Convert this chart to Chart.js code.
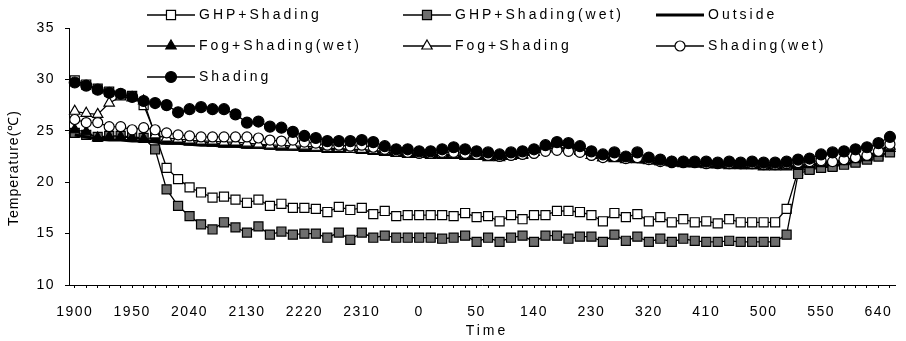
<!DOCTYPE html>
<html>
<head>
<meta charset="utf-8">
<title>Temperature</title>
<script src="https://cdn.jsdelivr.net/npm/chart.js@4.4.1/dist/chart.umd.min.js"></script>
<style>
    body { margin: 0; background: #fff; }
    #wrap { width: 906px; height: 341px; }
</style>
</head>
<body>
<div id="wrap"><canvas id="tempChart" width="906" height="341"></canvas></div>
<script>
// time of day, every 10 min (HMM without colon, as on the axis)
const timeLabels = [
    '1900', '1910', '1920', '1930', '1940', '1950', '2000', '2010', '2020', '2030',
    '2040', '2050', '2100', '2110', '2120', '2130', '2140', '2150', '2200', '2210',
    '2220', '2230', '2240', '2250', '2300', '2310', '2320', '2330', '2340', '2350',
    '0', '10', '20', '30', '40', '50', '100', '110', '120', '130',
    '140', '150', '200', '210', '220', '230', '240', '250', '300', '310',
    '320', '330', '340', '350', '400', '410', '420', '430', '440', '450',
    '500', '510', '520', '530', '540', '550', '600', '610', '620', '630',
    '640', '650'
];

const ghpShading = [
    29.9, 29.5, 29.1, 28.8, 28.5, 28.4, 27.5, 24.7, 21.4, 20.3,
    19.5, 19.0, 18.5, 18.6, 18.3, 18.0, 18.3, 17.7, 17.9, 17.5,
    17.5, 17.4, 17.1, 17.6, 17.3, 17.5, 16.9, 17.2, 16.7, 16.8,
    16.8, 16.8, 16.8, 16.7, 17.0, 16.6, 16.7, 16.2, 16.8, 16.4,
    16.8, 16.8, 17.2, 17.2, 17.1, 16.8, 16.2, 17.0, 16.6, 16.9,
    16.2, 16.6, 16.1, 16.4, 16.1, 16.2, 16.0, 16.4, 16.1, 16.1,
    16.1, 16.1, 17.4, 21.1, 21.3, 21.5, 21.6, 21.8, 22.0, 22.3,
    22.6, 23.0
];
const ghpShadingWet = [
    24.8, 24.6, 24.4, 24.5, 24.5, 24.4, 24.3, 23.2, 19.3, 17.7,
    16.7, 15.9, 15.4, 16.1, 15.6, 15.1, 15.7, 14.9, 15.2, 14.9,
    15.0, 15.0, 14.6, 15.1, 14.4, 15.1, 14.6, 14.8, 14.6, 14.6,
    14.6, 14.6, 14.5, 14.6, 14.8, 14.2, 14.6, 14.2, 14.6, 14.8,
    14.2, 14.8, 14.8, 14.5, 14.7, 14.7, 14.2, 14.9, 14.3, 14.7,
    14.2, 14.5, 14.2, 14.5, 14.3, 14.2, 14.2, 14.3, 14.2, 14.2,
    14.2, 14.2, 14.9, 20.8, 21.2, 21.4, 21.5, 21.7, 21.9, 22.2,
    22.5, 22.9
];
const outside = [
    24.6, 24.4, 24.2, 24.1, 24.1, 24.0, 24.0, 23.9, 23.8, 23.8,
    23.7, 23.6, 23.6, 23.5, 23.5, 23.4, 23.4, 23.3, 23.3, 23.2,
    23.2, 23.1, 23.1, 23.0, 23.0, 22.9, 22.9, 22.8, 22.7, 22.6,
    22.6, 22.5, 22.5, 22.5, 22.4, 22.4, 22.3, 22.3, 22.4, 22.6,
    23.0, 23.5, 23.8, 23.6, 23.2, 22.6, 22.3, 22.2, 22.1, 22.0,
    21.9, 21.8, 21.7, 21.6, 21.6, 21.5, 21.5, 21.5, 21.4, 21.4,
    21.4, 21.4, 21.4, 21.5, 21.6, 21.8, 21.9, 22.1, 22.3, 22.5,
    22.9, 23.5
];
const fogShadingWet = [
    25.1, 24.9, 24.3, 24.4, 24.4, 24.3, 24.2, 24.2, 24.0, 24.0,
    23.9, 23.9, 23.8, 23.7, 23.7, 23.6, 23.6, 23.5, 23.4, 23.4,
    23.3, 23.3, 23.2, 23.2, 23.2, 23.1, 23.0, 22.9, 22.8, 22.7,
    22.7, 22.6, 22.6, 22.6, 22.5, 22.5, 22.4, 22.4, 22.5, 22.6,
    22.9, 23.3, 23.6, 23.5, 23.1, 22.6, 22.4, 22.3, 22.2, 22.2,
    22.1, 22.0, 21.9, 21.8, 21.8, 21.7, 21.7, 21.6, 21.6, 21.6,
    21.5, 21.5, 21.5, 21.6, 21.7, 21.8, 21.9, 22.0, 22.2, 22.4,
    22.8, 23.3
];
const fogShading = [
    26.9, 26.7, 26.6, 27.7, 28.3, 28.2, 27.9, 24.6, 24.3, 24.2,
    24.1, 24.0, 24.0, 23.9, 23.9, 23.8, 23.7, 23.6, 23.6, 23.5,
    23.5, 23.4, 23.3, 23.3, 23.2, 23.2, 23.1, 23.0, 22.9, 22.8,
    22.7, 22.7, 22.7, 22.7, 22.6, 22.6, 22.5, 22.5, 22.6, 22.7,
    22.9, 23.2, 23.4, 23.3, 23.0, 22.6, 22.4, 22.4, 22.3, 22.3,
    22.2, 22.0, 21.9, 21.9, 21.8, 21.8, 21.7, 21.7, 21.7, 21.7,
    21.6, 21.6, 21.6, 21.7, 21.8, 21.9, 22.0, 22.1, 22.3, 22.5,
    22.9, 23.5
];
const shadingWet = [
    26.1, 25.8, 25.8, 25.4, 25.4, 25.1, 25.3, 25.1, 24.8, 24.6,
    24.5, 24.4, 24.4, 24.4, 24.4, 24.4, 24.3, 24.1, 24.0, 24.1,
    23.9, 23.8, 23.6, 23.6, 23.5, 23.6, 23.4, 23.2, 23.0, 22.9,
    22.8, 22.8, 22.9, 22.9, 22.8, 22.7, 22.6, 22.5, 22.6, 22.7,
    22.8, 23.0, 23.1, 23.0, 22.9, 22.6, 22.4, 22.5, 22.3, 22.4,
    22.2, 22.0, 21.9, 21.9, 21.9, 21.8, 21.8, 21.8, 21.8, 21.8,
    21.7, 21.7, 21.8, 21.9, 22.0, 22.1, 22.0, 22.2, 22.4, 22.6,
    23.0, 23.7
];
const shading = [
    29.7, 29.4, 29.0, 28.7, 28.6, 28.3, 27.9, 27.7, 27.5, 26.8,
    27.1, 27.3, 27.1, 27.1, 26.6, 25.8, 25.9, 25.4, 25.3, 24.9,
    24.5, 24.3, 24.0, 24.0, 24.0, 24.1, 23.9, 23.5, 23.2, 23.2,
    23.0, 23.0, 23.2, 23.4, 23.2, 23.0, 22.9, 22.7, 22.9, 23.0,
    23.2, 23.6, 23.9, 23.8, 23.5, 23.0, 22.7, 22.9, 22.5, 22.9,
    22.4, 22.2, 22.0, 22.0, 22.0, 22.0, 21.9, 22.0, 21.9, 22.0,
    21.9, 21.9, 22.0, 22.2, 22.3, 22.7, 22.9, 23.0, 23.2, 23.4,
    23.8, 24.4
];

const yMin = 10;
const yMax = 35;
const yStep = 5;

const FONT = '"Liberation Sans", Arial, sans-serif';

function series(label, data, style, fill, radius, width) {
    return {
        label: label,
        data: data,
        borderColor: '#000',
        borderWidth: width || 1.3,
        pointStyle: style,
        pointRadius: radius,
        pointBackgroundColor: fill,
        pointBorderColor: '#000',
        pointBorderWidth: 1.2,
        tension: 0,
        fill: false
    };
}

const datasets = [
    series('GHP+Shading', ghpShading, 'rect', '#fff', 6.4),
    series('GHP+Shading(wet)', ghpShadingWet, 'rect', '#6e6e6e', 6.4),
    series('Outside', outside, 'circle', '#000', 0, 3),
    series('Fog+Shading(wet)', fogShadingWet, 'triangle', '#000', 6),
    series('Fog+Shading', fogShading, 'triangle', '#fff', 6),
    series('Shading(wet)', shadingWet, 'circle', '#fff', 5),
    series('Shading', shading, 'circle', '#000', 5.5)
];
// later series are drawn on top, like the original
datasets.forEach((ds, i) => { ds.order = datasets.length - i; });

// grid legend over the top of the plot + axis titles
const extrasPlugin = {
    id: 'extras',
    beforeDraw(chart) {
        chart.ctx.letterSpacing = '1.5px';
    },
    afterDraw(chart) {
        const c = chart.ctx;
        const cols = [147, 403, 656];
        const rows = [15, 46, 77];
        c.save();
        c.font = '14px ' + FONT;
        c.letterSpacing = '3px';
        c.textBaseline = 'middle';
        c.textAlign = 'left';
        chart.data.datasets.forEach((ds, i) => {
            const x = cols[i % 3];
            const y = rows[Math.floor(i / 3)];
            c.strokeStyle = '#000';
            c.lineWidth = ds.borderWidth;
            c.beginPath();
            c.moveTo(x, y);
            c.lineTo(x + 48, y);
            c.stroke();
            if (ds.pointRadius > 0) {
                c.fillStyle = ds.pointBackgroundColor;
                c.strokeStyle = '#000';
                c.lineWidth = 1.2;
                Chart.helpers.drawPoint(c, { pointStyle: ds.pointStyle, radius: ds.pointRadius, borderWidth: 1, rotation: 0 }, x + 24, y);
            }
            c.fillStyle = '#000';
            c.fillText(ds.label, x + 52, y);
        });

        // x title
        c.textAlign = 'center';
        c.fillText('Time', 487, 331);

        // y title
        c.letterSpacing = '1px';
        c.translate(14, 168);
        c.rotate(-Math.PI / 2);
        c.fillText('Temperature(℃)', 0, 0);
        c.restore();
    }
};

const ctx = document.getElementById('tempChart').getContext('2d');
new Chart(ctx, {
    type: 'line',
    data: {
        labels: timeLabels,
        datasets: datasets
    },
    plugins: [extrasPlugin],
    options: {
        responsive: false,
        animation: false,
        devicePixelRatio: 1,
        layout: { padding: { top: 28, right: 0, bottom: 0, left: 0 } },
        plugins: {
            legend: { display: false },
            tooltip: { enabled: false }
        },
        scales: {
            x: {
                offset: true,
                grid: { drawOnChartArea: false, color: '#000', tickLength: 3 },
                border: { color: '#000', width: 1 },
                ticks: {
                    autoSkip: false,
                    maxRotation: 0,
                    padding: 16,
                    color: '#000',
                    font: { family: FONT, size: 14 },
                    callback: function(val, idx) {
                        return idx % 5 === 0 ? this.getLabelForValue(val) : '';
                    }
                },
                afterFit: s => { s.height = 56; }
            },
            y: {
                min: yMin,
                max: yMax,
                ticks: {
                    stepSize: yStep,
                    padding: 10,
                    color: '#000',
                    font: { family: FONT, size: 14 }
                },
                grid: { drawOnChartArea: false, color: '#000', tickLength: 4 },
                border: { color: '#000', width: 1 },
                afterFit: s => { s.width = 69; }
            }
        }
    }
});
</script>
</body>
</html>
